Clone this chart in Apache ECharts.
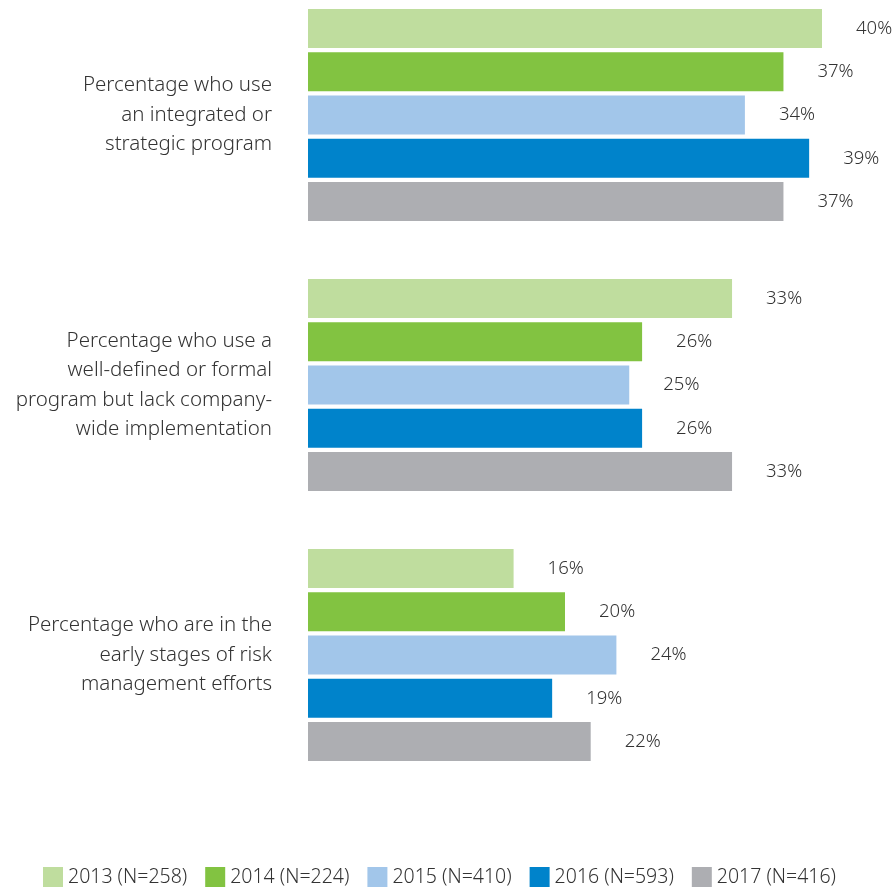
<!DOCTYPE html>
<html><head><meta charset="utf-8">
<script src="https://cdn.jsdelivr.net/npm/echarts@6/dist/echarts.min.js"></script>
<style>html,body{margin:0;padding:0;background:#fff}#c{width:894px;height:888px}</style>
</head><body><div id="c"></div>
<script>
const categories = [
  "Percentage who use\nan integrated or\nstrategic program",
  "Percentage who use a\nwell-defined or formal\nprogram but lack company-\nwide implementation",
  "Percentage who are in the\nearly stages of risk\nmanagement efforts"
];
const seriesNames = ["2013 (N=258)", "2014 (N=224)", "2015 (N=410)", "2016 (N=593)", "2017 (N=416)"];
const v2013 = [40, 33, 16];
const v2014 = [37, 26, 20];
const v2015 = [34, 25, 24];
const v2016 = [39, 26, 19];
const v2017 = [37, 33, 22];
const colors = ["#BFDD9E", "#82C341", "#A2C6EA", "#0083CB", "#ADAEB2"];
const values = [v2013, v2014, v2015, v2016, v2017];
const FONT = "Noto Sans";
const chart = echarts.init(document.getElementById('c'));
chart.setOption({
  animation: false,
  grid: { left: 308, right: 72, top: 115, height: 540 },
  xAxis: { type: 'value', min: 0, max: 40, show: false },
  yAxis: {
    type: 'category', data: categories, inverse: true, boundaryGap: false,
    axisLine: { show: false }, axisTick: { show: false },
    axisLabel: { margin: 36, color: '#333', fontFamily: FONT, fontSize: 20.5, lineHeight: 29.5, align: 'right', fontWeight: 300 }
  },
  legend: {
    left: 38, bottom: -4, itemWidth: 20, itemHeight: 20, itemGap: 18,
    icon: 'rect',
    textStyle: { color: '#333', fontFamily: FONT, fontSize: 19.5, fontWeight: 300 },
    data: seriesNames
  },
  series: values.map((v, i) => ({
    name: seriesNames[i], type: 'bar', data: v,
    barCategoryGap: '21.5%', barGap: '11%',
    itemStyle: { color: colors[i] },
    label: { show: true, position: 'right', distance: 34, formatter: '{c}%', color: '#333', fontFamily: FONT, fontSize: 18.5, fontWeight: 300 }
  }))
});
</script></body></html>
